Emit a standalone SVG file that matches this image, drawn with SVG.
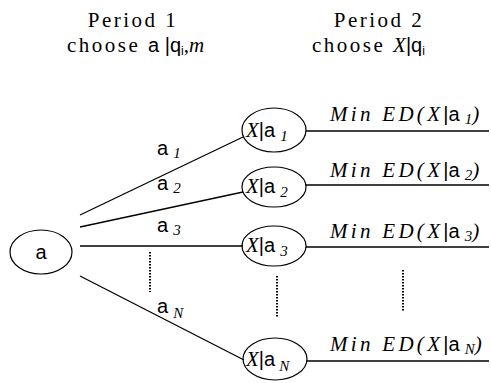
<svg xmlns="http://www.w3.org/2000/svg" width="491" height="383" viewBox="0 0 491 383">
<style>
.node{fill:none;stroke:#000;stroke-width:1.2}
.ln{stroke:#000;stroke-width:1.3;fill:none}
.dot{stroke:#000;stroke-width:2;stroke-dasharray:1.5 1.5;fill:none}
.serif{font-family:"Liberation Serif","Times New Roman",serif;font-size:21px;fill:#000}
.sp{letter-spacing:2.5px}
.sp2{letter-spacing:3.3px}
.it{font-style:italic}
.sans{font-family:"Liberation Sans",Arial,sans-serif;font-size:20px;font-style:normal;letter-spacing:0}
.sub{font-family:"Liberation Serif","Times New Roman",serif;font-style:italic;font-size:15px;letter-spacing:0}
.subs{font-family:"Liberation Sans",Arial,sans-serif;font-size:12px;font-style:normal;letter-spacing:0}
</style>
<rect width="491" height="383" fill="#fff"/>
<g id="headers">
<text class="serif sp" x="133" y="27" text-anchor="middle">Period 1</text>
<text class="serif" x="67" y="52"><tspan class="sp">choose </tspan><tspan class="sans">a |q</tspan><tspan class="subs" dy="3">i</tspan><tspan dy="-3">,</tspan><tspan class="it">m</tspan></text>
<text class="serif sp" x="379" y="27" text-anchor="middle">Period 2</text>
<text class="serif" x="312" y="52"><tspan class="sp">choose </tspan><tspan class="it">X</tspan><tspan class="sans">|q</tspan><tspan class="subs" dy="3">i</tspan></text>
</g>
<g id="connectors">
<line class="ln" x1="80" y1="215" x2="243" y2="137"/>
<line class="ln" x1="80" y1="227" x2="243" y2="192"/>
<line class="ln" x1="80" y1="246" x2="243" y2="246"/>
<line class="ln" x1="80" y1="276" x2="244" y2="360"/>
<line class="dot" x1="150" y1="252" x2="150" y2="292"/>
<line class="ln" x1="306" y1="131" x2="489" y2="131"/>
<line class="ln" x1="306" y1="185" x2="489" y2="185"/>
<line class="ln" x1="306" y1="247" x2="489" y2="247"/>
<line class="ln" x1="306" y1="361" x2="489" y2="361"/>
<line class="dot" x1="277" y1="276" x2="277" y2="317"/>
<line class="dot" x1="403" y1="270" x2="403" y2="311"/>
</g>
<g id="edge-labels">
<text class="sans" x="157" y="155">a<tspan class="sub" dx="5" dy="3">1</tspan></text>
<text class="sans" x="157" y="190">a<tspan class="sub" dx="5" dy="3">2</tspan></text>
<text class="sans" x="157" y="232">a<tspan class="sub" dx="5" dy="3">3</tspan></text>
<text class="sans" x="157" y="313">a<tspan class="sub" dx="5" dy="5">N</tspan></text>
</g>
<g id="root">
<ellipse class="node" cx="41" cy="252" rx="31" ry="22"/>
<text class="sans" x="41" y="259" text-anchor="middle">a</text>
</g>
<g id="node1">
<ellipse class="node" cx="274" cy="130" rx="32" ry="22"/>
<text class="serif" x="246" y="137"><tspan class="it">X</tspan><tspan class="sans">|a</tspan><tspan class="sub" dx="5" dy="4">1</tspan></text>
<text class="serif it sp2" x="330" y="121">Min ED(X<tspan class="sans">|a</tspan><tspan class="sub" dx="5" dy="3">1</tspan><tspan dy="-3">)</tspan></text>
</g>
<g id="node2">
<ellipse class="node" cx="274" cy="187" rx="32" ry="20"/>
<text class="serif" x="246" y="193"><tspan class="it">X</tspan><tspan class="sans">|a</tspan><tspan class="sub" dx="5" dy="4">2</tspan></text>
<text class="serif it sp2" x="330" y="177">Min ED(X<tspan class="sans">|a</tspan><tspan class="sub" dx="5" dy="3">2</tspan><tspan dy="-3">)</tspan></text>
</g>
<g id="node3">
<ellipse class="node" cx="274" cy="246" rx="32" ry="20"/>
<text class="serif" x="246" y="252"><tspan class="it">X</tspan><tspan class="sans">|a</tspan><tspan class="sub" dx="5" dy="4">3</tspan></text>
<text class="serif it sp2" x="330" y="238">Min ED(X<tspan class="sans">|a</tspan><tspan class="sub" dx="5" dy="3">3</tspan><tspan dy="-3">)</tspan></text>
</g>
<g id="nodeN">
<ellipse class="node" cx="275" cy="359" rx="32" ry="21"/>
<text class="serif" x="246" y="366"><tspan class="it">X</tspan><tspan class="sans">|a</tspan><tspan class="sub" dx="4" dy="5">N</tspan></text>
<text class="serif it sp2" x="330" y="351">Min ED(X<tspan class="sans">|a</tspan><tspan class="sub" dx="5" dy="3">N</tspan><tspan dy="-3">)</tspan></text>
</g>
</svg>
